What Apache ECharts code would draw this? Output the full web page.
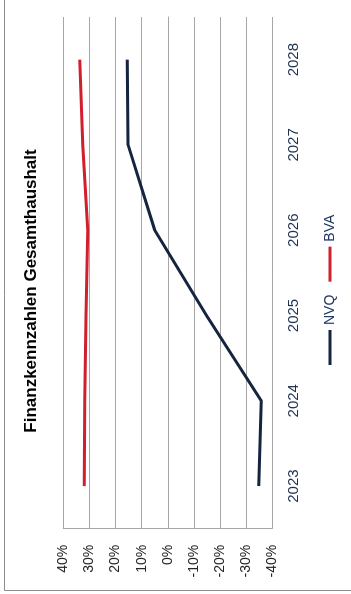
<!DOCTYPE html>
<html>
<head>
<meta charset="utf-8">
<script src="https://cdn.jsdelivr.net/npm/echarts@6/dist/echarts.min.js"></script>
<style>
  html, body { margin: 0; padding: 0; background: #fff; overflow: hidden; }
  #stage { position: relative; width: 351px; height: 594px; overflow: hidden; }
  /* The chart is laid out landscape and turned a quarter turn counter-clockwise */
  #chart {
    position: absolute; left: 0; top: 0;
    width: 594px; height: 351px;
    transform-origin: 0 0;
    transform: translateY(594px) rotate(-90deg);
  }
</style>
</head>
<body>
<div id="stage"><div id="chart"></div></div>
<script>
// Financial ratios, whole budget (values in percent)
const titleText = 'Finanzkennzahlen Gesamthaushalt';
const years = ['2023', '2024', '2025', '2026', '2027', '2028'];
const nvqValues = [-34.8, -35.8, -14.8, 5.0, 15.2, 15.5];
const bvaValues = [32.0, 31.8, 31.3, 30.6, 32.6, 33.7];
const seriesNames = ['NVQ', 'BVA'];
const valueMin = -40;
const valueMax = 40;
const valueStep = 10;

const FONT = '"Liberation Sans", Arial, sans-serif';
const GRID_GREY = '#a6a6a6';

const chart = echarts.init(document.getElementById('chart'), null, { renderer: 'canvas' });

chart.setOption({
  animation: false,
  backgroundColor: '#ffffff',
  textStyle: { fontFamily: FONT },
  graphic: [
    // chart-area frame edges
    { type: 'line', shape: { x1: 3.5, y1: 4.5, x2: 594, y2: 4.5 }, style: { stroke: '#8c8c8c', lineWidth: 1 } },
    { type: 'line', shape: { x1: 3.5, y1: 4.5, x2: 3.5, y2: 351 }, style: { stroke: '#8c8c8c', lineWidth: 1 } },
    {
      type: 'text', x: 303, y: 31,
      style: {
        text: titleText, align: 'center', verticalAlign: 'middle',
        font: 'bold 17px ' + FONT, fill: '#000000'
      }
    }
  ],
  legend: {
    data: seriesNames,
    left: 229, top: 323, padding: 0,
    itemWidth: 35, itemHeight: 3, itemGap: 13,
    icon: 'rect',
    textStyle: { fontSize: 14, color: '#1f3864', fontFamily: FONT }
  },
  grid: { left: 65.3, right: 17, top: 63.3, bottom: 78.7, containLabel: false },
  xAxis: {
    type: 'category',
    data: years,
    boundaryGap: true,
    axisLine: { show: true, lineStyle: { color: GRID_GREY, width: 1 } },
    axisTick: { show: false },
    axisLabel: { fontSize: 15, color: '#1f3050', margin: 14, fontFamily: FONT },
    splitLine: { show: false }
  },
  yAxis: {
    type: 'value',
    min: valueMin, max: valueMax, interval: valueStep,
    axisLine: { show: true, lineStyle: { color: GRID_GREY, width: 1 } },
    axisTick: { show: false },
    axisLabel: { fontSize: 14, color: '#262626', margin: 16, formatter: '{value}%', fontFamily: FONT },
    splitLine: { show: true, lineStyle: { color: GRID_GREY, width: 1 } }
  },
  series: [
    {
      name: seriesNames[0], type: 'line', data: nvqValues,
      symbol: 'none', smooth: false,
      lineStyle: { color: '#14253f', width: 3 },
      itemStyle: { color: '#14253f' }
    },
    {
      name: seriesNames[1], type: 'line', data: bvaValues,
      symbol: 'none', smooth: false,
      lineStyle: { color: '#d0202e', width: 3 },
      itemStyle: { color: '#d0202e' }
    }
  ]
});
</script>
</body>
</html>
